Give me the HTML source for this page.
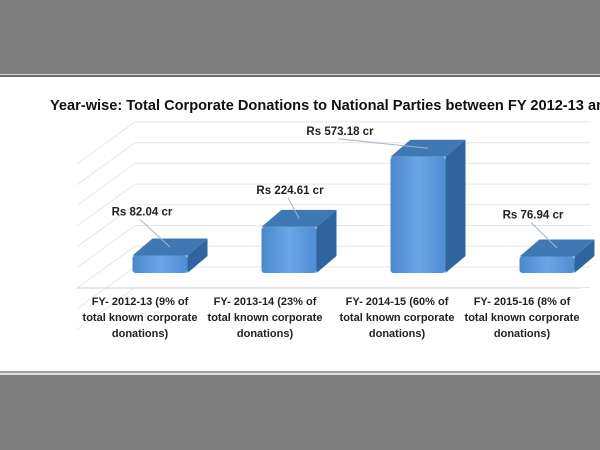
<!DOCTYPE html>
<html><head><meta charset="utf-8"><style>
html,body{margin:0;padding:0;width:600px;height:450px;overflow:hidden;background:#fff;font-family:"Liberation Sans",sans-serif}
</style></head><body>
<svg width="600" height="450" viewBox="0 0 600 450">
<defs>
<linearGradient id="front" x1="0" x2="1" y1="0" y2="0"><stop offset="0" stop-color="#4a88cc"/><stop offset="0.5" stop-color="#6aa6e6"/><stop offset="1" stop-color="#4f8ed4"/></linearGradient>
</defs>
<rect x="0" y="0" width="600" height="74" fill="#7f7f7f"/>
<rect x="0" y="74" width="600" height="1" fill="#d8d8d8"/>
<rect x="0" y="75" width="600" height="2" fill="#6e6e6e"/>
<rect x="0" y="371" width="600" height="2" fill="#a0a0a0"/>
<rect x="0" y="373" width="600" height="2" fill="#e0e0e0"/>
<rect x="0" y="375" width="600" height="75" fill="#7f7f7f"/>
<text x="50" y="110" font-size="14.6" font-weight="bold" fill="#111">Year-wise: Total Corporate Donations to National Parties between FY 2012-13 and 2015-16</text>
<g id="grid"></g>
<g id="bars"></g>
<g id="labels"></g>
</svg>
<script>
const categories1 = ["FY- 2012-13 (9% of","FY- 2013-14 (23%  of","FY- 2014-15 (60%  of","FY- 2015-16 (8%  of"];
const values = [82.04, 224.61, 573.18, 76.94];
const valueLabels = ["Rs 82.04 cr","Rs 224.61 cr","Rs 573.18 cr","Rs 76.94 cr"];
const NS="http://www.w3.org/2000/svg";
function mk(t,a,p){const e=document.createElementNS(NS,t);for(const k in a)e.setAttribute(k,a[k]);p.appendChild(e);return e;}
const grid=document.getElementById('grid'),bars=document.getElementById('bars'),labels=document.getElementById('labels');
const base=273, dx=20, dy=-17;
function yh(v){return 0.201*v+1;}
function xc(i){return 160+i*129;}
for(let k=0;k<9;k++){
  const y=122+k*20.7;
  const l=mk('line',{x1:135,y1:y,x2:590,y2:y,stroke:'#e6e6e6','stroke-width':1},grid);
  
  
  mk('line',{x1:77,y1:y+42,x2:135,y2:y,stroke:'#e6e6e6','stroke-width':1},grid);
}
mk('line',{x1:77,y1:288,x2:580,y2:288,stroke:'#e0e0e0','stroke-width':1.5},grid);
values.forEach((v,i)=>{
  const w=55, x=xc(i)-w/2, h=yh(v), top=base-h;
  const g=mk('g',{},bars);
  
  
  mk('polygon',{points:`${x},${top} ${x+dx},${top+dy} ${x+w+dx},${top+dy} ${x+w},${top}`,fill:'#3f78b4'},g);
  mk('polygon',{points:`${x+w},${top} ${x+w+dx},${top+dy} ${x+w+dx},${base+dy} ${x+w},${base}`,fill:'#2f659f'},g);
  mk('rect',{x:x,y:top,width:w,height:h,rx:3,fill:'url(#front)'},g);
  const lx=[142,290,340,533][i], ly=top-[40,33,22,38][i];
  mk('line',{x1:lx-2,y1:ly+4,x2:x+w/2+dx/2,y2:top+dy/2,stroke:'#a6b6c6','stroke-width':1},g);
  const t=mk('text',{x:lx,y:ly,'font-size':11.5,'font-weight':'bold','text-anchor':'middle',fill:'#222'},labels);
  t.textContent=valueLabels[i];
  
  
  const cx=[140,265,397,522][i];
  [categories1[i],'total known corporate','donations)'].forEach((s,j)=>{
    const c=mk('text',{x:cx,y:305+j*16,'font-size':11,'font-weight':'bold','text-anchor':'middle',fill:'#222'},labels);
    c.textContent=s;
    
    
  });
});
</script>
</body></html>
